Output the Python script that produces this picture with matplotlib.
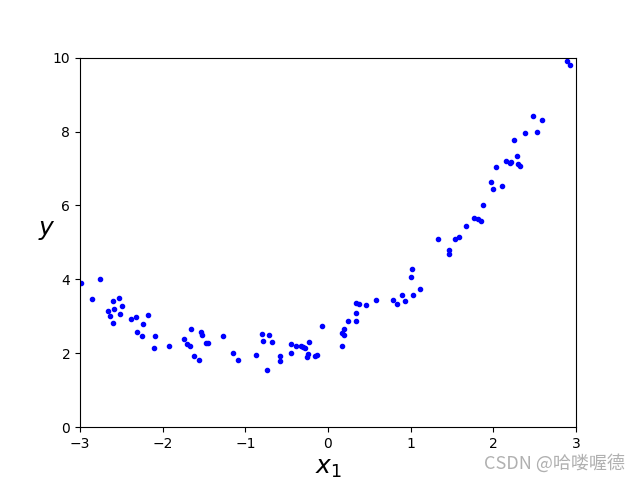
import numpy as np
import matplotlib.pyplot as plt

# точки
X = [-2.99, -2.758, -2.851, -2.597, -2.525, -2.488, -2.661, -2.585, -2.633, -2.513,
     -2.597, -2.379, -2.319, -2.174, -2.234, -2.310, -2.246, -2.089, -2.101, -1.920,
     -1.654, -1.533, -1.521, -1.738, -1.700, -1.666, -1.472, -1.448, -1.267, -1.617,
     -1.557, -1.146, -1.085, -0.867, -0.795, -0.783, -0.710, -0.674, -0.734, -0.577,
     -0.577, -0.444, -0.444, -0.383, -0.323, -0.299, -0.284, -0.226, -0.238, -0.250,
     -0.154, -0.130, -0.069, 0.238, 0.190, 0.166, 0.197, 0.173, 0.342, 0.342,
     0.342, 0.379, 0.463, 0.584, 0.790, 0.838, 0.899, 0.935, 1.032, 1.116,
     1.008, 1.020, 1.334, 1.467, 1.467, 1.540, 1.588, 1.673, 1.770, 1.818,
     1.854, 1.879, 1.975, 2.000, 2.108, 2.036, 2.157, 2.205, 2.217, 2.302,
     2.326, 2.290, 2.254, 2.387, 2.532, 2.480, 2.589, 2.895, 2.931]
y = [3.89, 4.00, 3.46, 3.41, 3.49, 3.27, 3.14, 3.19, 3.00, 3.05,
     2.81, 2.92, 2.97, 3.03, 2.78, 2.57, 2.46, 2.46, 2.13, 2.19,
     2.67, 2.57, 2.49, 2.38, 2.26, 2.21, 2.27, 2.27, 2.46, 1.92,
     1.82, 2.02, 1.83, 1.94, 2.51, 2.32, 2.49, 2.30, 1.54, 1.92,
     1.78, 2.24, 2.02, 2.21, 2.19, 2.16, 2.13, 2.30, 1.97, 1.89,
     1.92, 1.94, 2.73, 2.86, 2.67, 2.54, 2.49, 2.21, 2.86, 3.08,
     3.35, 3.33, 3.30, 3.43, 3.43, 3.33, 3.57, 3.41, 3.57, 3.73,
     4.06, 4.27, 5.09, 4.79, 4.68, 5.09, 5.14, 5.44, 5.66, 5.63,
     5.57, 6.01, 6.63, 6.44, 6.52, 7.04, 7.20, 7.15, 7.17, 7.12,
     7.07, 7.34, 7.77, 7.96, 7.99, 8.42, 8.31, 9.92, 9.80]

plt.figure(figsize=(6.4, 4.8), dpi=100)
plt.plot(X, y, "b.")
plt.xlabel("$x_1$", fontsize=18)
plt.ylabel("$y$", rotation=0, fontsize=18)
plt.axis([-3, 3, 0, 10])
plt.gcf().text(0.977, 0.015, "CSDN @哈喽喔德", ha="right", va="bottom",
               fontsize=13, color="#b0b0b0",
               family=["Noto Sans CJK SC", "DejaVu Sans"])
plt.savefig("out.png")
